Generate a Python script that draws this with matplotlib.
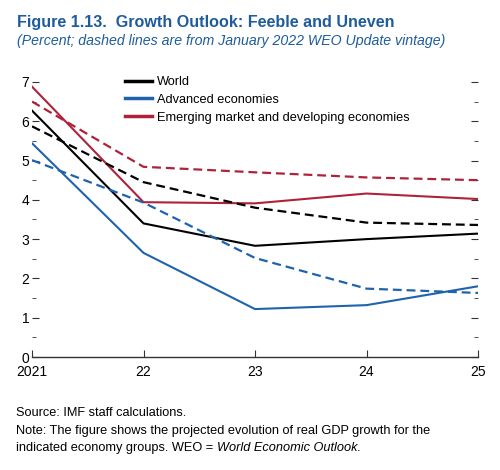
import matplotlib.pyplot as plt
from matplotlib.ticker import MultipleLocator
from matplotlib import font_manager

# pick a condensed font if there is one
names = {f.name for f in font_manager.fontManager.ttflist}
narrow = 'Liberation Sans Narrow' if 'Liberation Sans Narrow' in names else 'Liberation Sans'
plt.rcParams['font.family'] = [narrow, 'DejaVu Sans']

years = [2021, 2022, 2023, 2024, 2025]
year_labels = ['2021', '22', '23', '24', '25']

world = [6.27, 3.40, 2.83, 3.00, 3.14]
world_jan = [5.87, 4.45, 3.80, 3.42, 3.36]
adv = [5.44, 2.65, 1.22, 1.32, 1.80]
adv_jan = [5.01, 3.93, 2.52, 1.74, 1.63]
emde = [6.88, 3.94, 3.91, 4.16, 4.02]
emde_jan = [6.50, 4.84, 4.70, 4.57, 4.50]

blue = '#1f63ad'
red = '#ae2339'
title_blue = '#1e5c9c'

fig = plt.figure(figsize=(5, 4.7), dpi=100)
ax = fig.add_axes([0.064, 0.2404, 0.892, 0.602])

ax.plot(years, world, color='black', lw=1.5, label='World')
ax.plot(years, adv, color=blue, lw=1.5, label='Advanced economies')
ax.plot(years, emde, color=red, lw=1.5, label='Emerging market and developing economies')
ax.plot(years, world_jan, color='black', lw=1.6, ls=(0, (4, 2.2)))
ax.plot(years, adv_jan, color=blue, lw=1.6, ls=(0, (4, 2.2)))
ax.plot(years, emde_jan, color=red, lw=1.6, ls=(0, (4, 2.2)))

ax.set_xlim(2021, 2025)
ax.set_ylim(0, 7.2)
ax.set_xticks(years)
ax.set_xticklabels(year_labels)
ax.yaxis.set_major_locator(MultipleLocator(1))
ax.yaxis.set_minor_locator(MultipleLocator(0.5))
ax.set_yticks(range(0, 8))

for s in ['top', 'left', 'right']:
    ax.spines[s].set_visible(False)
ax.spines['bottom'].set_color('#333333')
ax.spines['bottom'].set_linewidth(1.0)

ax.tick_params(axis='y', which='both', direction='in', left=True, right=True,
               labelsize=10, color='#333333', pad=2)
ax.tick_params(axis='y', which='major', length=5)
ax.tick_params(axis='y', which='minor', length=3)
ax.tick_params(axis='x', direction='in', length=5, labelsize=10, color='#333333', pad=6)

leg = ax.legend(loc='upper left', bbox_to_anchor=(0.209, 0.993), frameon=False,
                fontsize=9.2, handlelength=2.1, handletextpad=0.35, labelspacing=0.45,
                borderaxespad=0, borderpad=0)
for h in leg.get_lines():
    h.set_linewidth(2.5)

fig.text(0.034, 0.953, 'Figure 1.13.  Growth Outlook: Feeble and Uneven', fontsize=11.6,
         fontweight='bold', color=title_blue, va='center')
fig.text(0.034, 0.913, '(Percent; dashed lines are from January 2022 WEO Update vintage)',
         fontsize=10.2, style='italic', color=title_blue, va='center')

fig.text(0.032, 0.121, 'Source: IMF staff calculations.', fontsize=9.2, va='center')
fig.text(0.032, 0.083, 'Note: The figure shows the projected evolution of real GDP growth for the',
         fontsize=9.2, va='center')
t = fig.text(0.032, 0.047, 'indicated economy groups. WEO = ', fontsize=9.2, va='center')
fig.canvas.draw()
bb = t.get_window_extent()
fig.text(bb.x1 / fig.bbox.width, 0.047, 'World Economic Outlook.', fontsize=9.2,
         va='center', style='italic')

fig.savefig('out.png', dpi=100)
